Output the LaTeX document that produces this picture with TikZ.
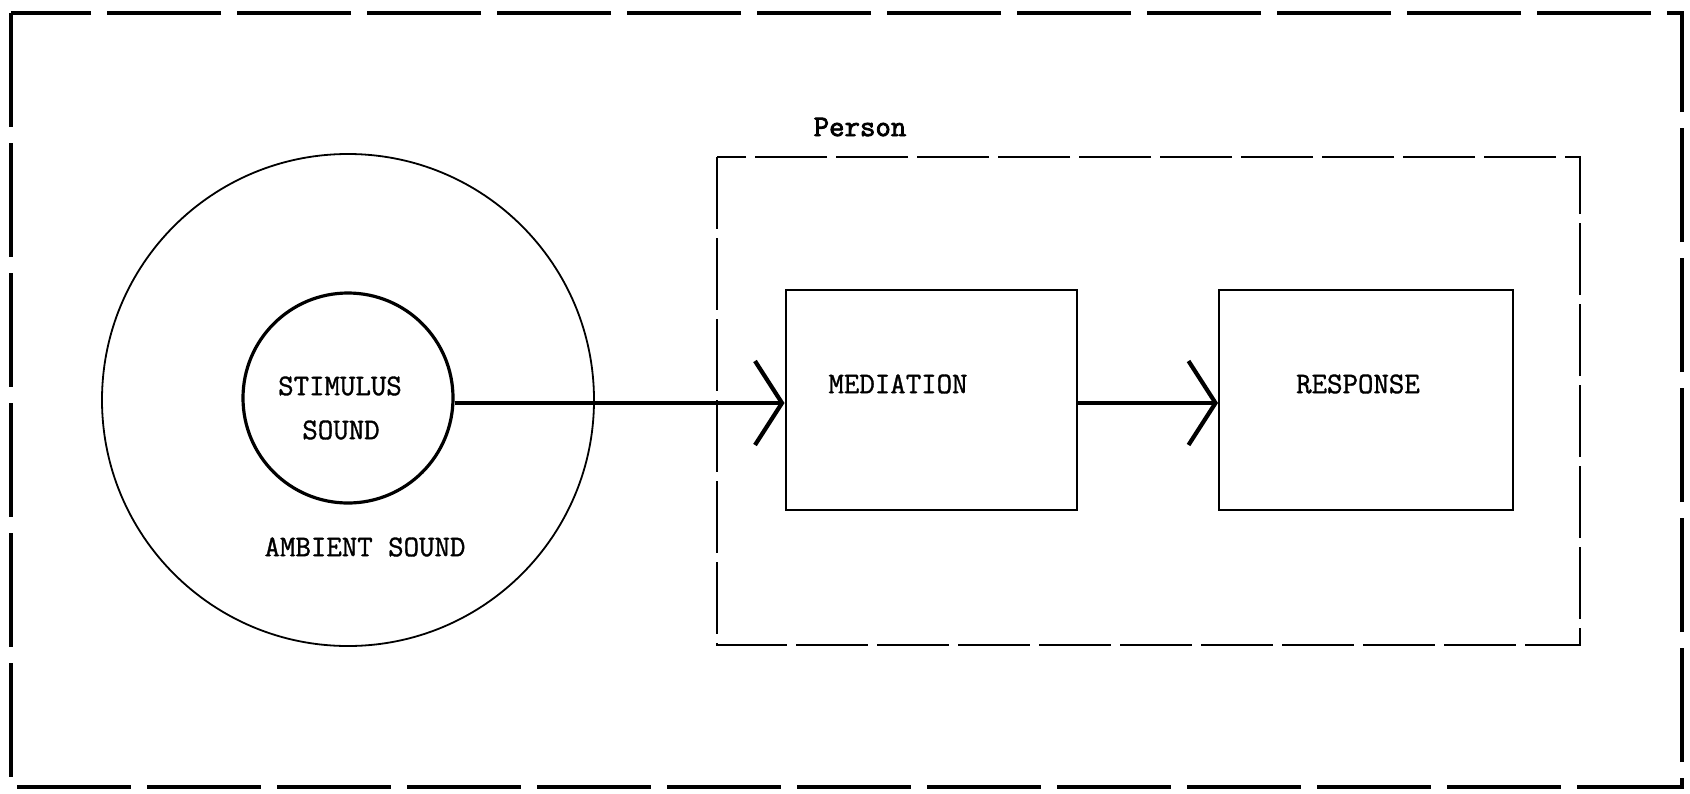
\documentclass[tikz,border=0pt]{standalone}
\usepackage{fontspec}
\usetikzlibrary{arrows.meta}
\newfontfamily\typewriter[FakeBold=1.2]{Latin Modern Mono}
\newfontfamily\typewriterheavy[FakeBold=2.6]{Latin Modern Mono}
\begin{document}
\begin{tikzpicture}[x=0.5pt,y=-0.5pt,
  lbl/.style={font=\fontsize{15}{18}\selectfont\typewriter, inner sep=0pt},
  heading/.style={font=\fontsize{15}{18}\selectfont\typewriterheavy, inner sep=0pt},
  outerframe/.style={line width=1.7pt, dash pattern=on 57pt off 8pt},
  personframe/.style={line width=1.1pt, dash pattern=on 36pt off 4.5pt},
  stagebox/.style={draw, line width=1pt, rectangle, inner sep=0pt},
  flow/.style={line width=2.1pt, -{Straight Barb[length=13.5pt, width=42pt, line width=2.1pt]}}
]
\useasboundingbox (0,0) rectangle (1690,793);
\fill[white] (0,0) rectangle (1690,793);

% environment frame
\draw[outerframe] (11,13) rectangle (1682,787);

% sound field
\node[draw, circle, line width=0.9pt, minimum size=246pt, inner sep=0pt] (ambient) at (348,400) {};
\node[draw, circle, line width=1.6pt, minimum size=105pt, inner sep=0pt] (stimulus) at (348,398) {};
\node[lbl] (stimtxt) at (340,386) {STIMULUS};
\node[lbl] (soundtxt) at (341,430) {SOUND};
\node[lbl] (ambtxt) at (365,547) {AMBIENT SOUND};

% the person
\draw[personframe] (717,157) rectangle (1580,645);
\node[heading] (persontxt) at (860,127) {Person};

\node[stagebox, minimum width=145.5pt, minimum height=110pt] (med) at (931,400) {};
\node[lbl] (medtxt) at (898,384) {MEDIATION};
\node[stagebox, minimum width=147pt, minimum height=110pt] (resp) at (1366,400) {};
\node[lbl] (resptxt) at (1358,384) {RESPONSE};

% flow of sound through the person
\draw[flow] (stimulus.east |- 0,403) -- (med.west |- 0,403);
\draw[flow] (med.east |- 0,403) -- (resp.west |- 0,403);
\end{tikzpicture}
\end{document}
